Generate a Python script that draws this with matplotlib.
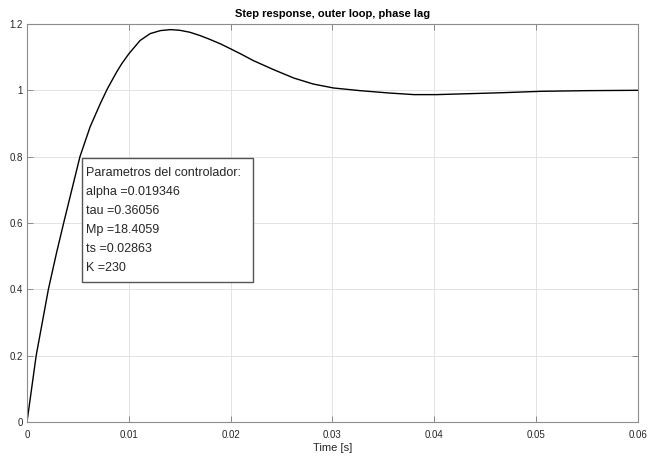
import numpy as np
import matplotlib
matplotlib.use("Agg")
import matplotlib.pyplot as plt
from matplotlib.patches import Rectangle

plt.rcParams['font.family'] = ['Liberation Sans', 'DejaVu Sans']

# respuesta al escalon (lazo externo, compensador de atraso)
t = [0, 0.0009, 0.0021, 0.0029, 0.0036, 0.0046, 0.0052, 0.0062, 0.0072,
     0.0079, 0.0088, 0.0093, 0.0100, 0.0111, 0.0121, 0.0131, 0.0141,
     0.0150, 0.0160, 0.0170, 0.0180, 0.0190, 0.0200, 0.0211, 0.0222,
     0.0242, 0.0262, 0.0281, 0.0301, 0.0327, 0.0355, 0.0380, 0.0402,
     0.0436, 0.0469, 0.0505, 0.0551, 0.0600]
y = [0, 0.200, 0.400, 0.510, 0.600, 0.725, 0.800, 0.890, 0.960,
     1.005, 1.055, 1.080, 1.110, 1.150, 1.171, 1.180, 1.183,
     1.181, 1.175, 1.165, 1.153, 1.140, 1.125, 1.108, 1.090,
     1.0625, 1.037, 1.019, 1.007, 0.999, 0.992, 0.987, 0.987,
     0.990, 0.993, 0.997, 0.999, 1.000]

xticks = [0, 0.01, 0.02, 0.03, 0.04, 0.05, 0.06]
xticklabels = ['0', '0.01', '0.02', '0.03', '0.04', '0.05', '0.06']
yticks = [0, 0.2, 0.4, 0.6, 0.8, 1, 1.2]
yticklabels = ['0', '0.2', '0.4', '0.6', '0.8', '1', '1.2']

params = ['Parametros del controlador:',
          'alpha =0.019346',
          'tau =0.36056',
          'Mp =18.4059',
          'ts =0.02863',
          'K =230']

fig = plt.figure(figsize=(6.49, 4.61), dpi=100)
ax = fig.add_axes([0.0416, 0.0846, 0.9414, 0.8634])

ax.plot(t, y, color='black', lw=1.0)

ax.set_xlim(0, 0.06)
ax.set_ylim(0, 1.2)
ax.set_xticks(xticks)
ax.set_xticklabels(xticklabels)
ax.set_yticks(yticks)
ax.set_yticklabels(yticklabels)
ax.grid(True, color='#e3e3e3', lw=0.7)
ax.set_axisbelow(True)

ax.tick_params(direction='in', length=4, width=0.6, top=True, right=True,
               labelsize=7, colors='#7a7a7a', labelcolor='#262626')
ax.tick_params(axis='x', pad=6)
ax.tick_params(axis='y', pad=3)
for s in ax.spines.values():
    s.set_color('#8c8c8c')
    s.set_linewidth(0.8)

ax.set_title('Step response, outer loop, phase lag', fontsize=8,
             fontweight='bold', pad=5)
ax.set_xlabel('Time [s]', fontsize=8, labelpad=2, color='#262626')

# cuadro con los parametros del controlador
box = Rectangle((0.0895, 0.3525), 0.2799, 0.3108, transform=ax.transAxes,
                fc='white', ec='#555555', lw=1.0, zorder=5)
ax.add_patch(box)
for i, linea in enumerate(params):
    ax.text(0.0967, 0.6249 - i * 0.0475, linea, transform=ax.transAxes,
            fontsize=9, color='#262626', va='center', ha='left', zorder=6)

fig.savefig('out.png', dpi=100)
